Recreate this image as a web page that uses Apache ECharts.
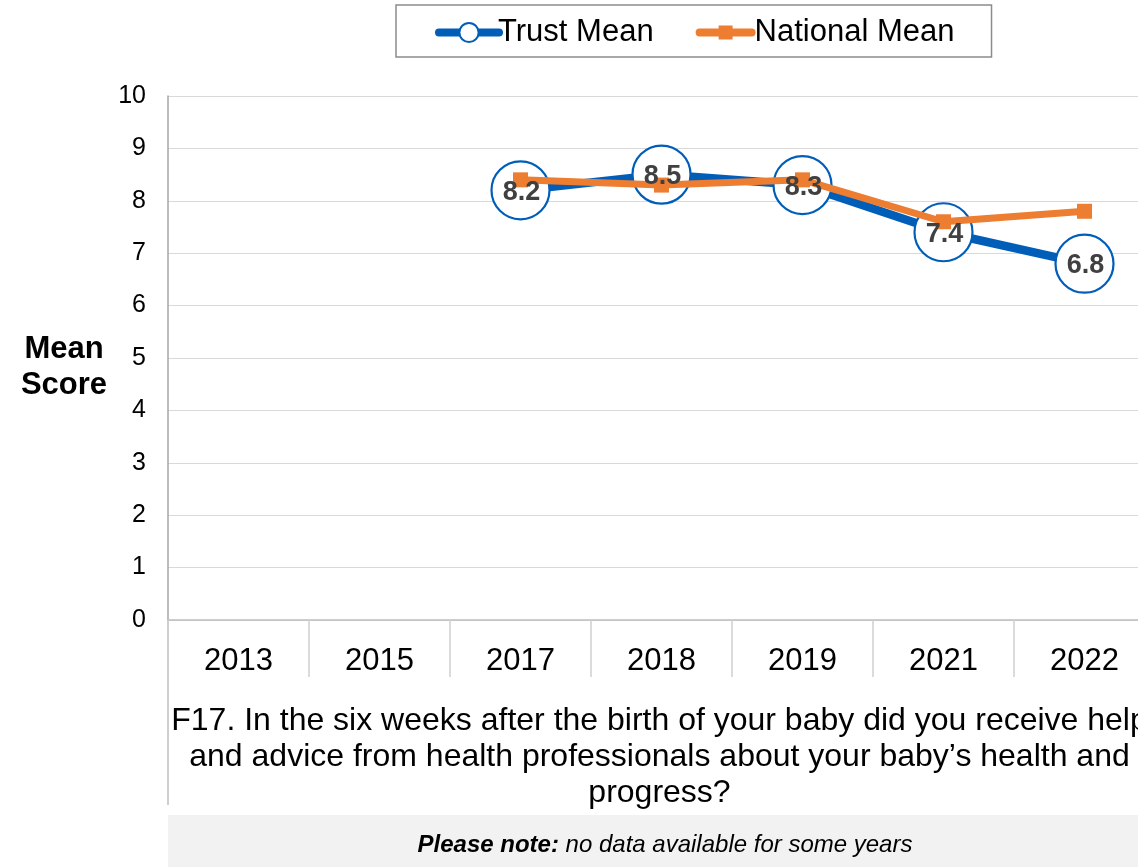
<!DOCTYPE html>
<html>
<head>
<meta charset="utf-8">
<style>
  html, body { margin: 0; padding: 0; background: #ffffff; }
  #chart { width: 1138px; height: 867px; }
</style>
<script src="https://cdn.jsdelivr.net/npm/echarts@6/dist/echarts.min.js"></script>
</head>
<body>
<div id="chart"></div>
<script>
// Survey years on the category axis
const years = ['2013', '2015', '2017', '2018', '2019', '2021', '2022'];
// Mean scores (null = no data for that year)
const trustMean = [null, null, 8.2, 8.5, 8.3, 7.4, 6.8];
const nationalMean = [null, null, 8.4, 8.3, 8.4, 7.6, 7.8];
// Value axis ticks
const scoreMin = 0;
const scoreMax = 10;
const scoreStep = 1;

const questionText = 'F17. In the six weeks after the birth of your baby did you receive help\nand advice from health professionals about your baby\u2019s health and\nprogress?';
const noteBold = 'Please note:';
const noteText = ' no data available for some years';

const FONT = '"Liberation Sans", Arial, sans-serif';
const BLUE = '#005EB8';
const ORANGE = '#ED7D31';

// legend key for the national series: thick rounded line with a small square
const squareKey = 'path://M4,3 L56,3 A4,4 0 0 1 56,11 L4,11 A4,4 0 0 1 4,3 Z M23,0 L37,0 L37,14 L23,14 Z';

const chart = echarts.init(document.getElementById('chart'), null, { renderer: 'canvas' });

chart.setOption({
  animation: false,
  backgroundColor: '#ffffff',
  textStyle: { fontFamily: FONT },
  legend: {
    data: [
      { name: 'Trust Mean' },
      { name: 'National Mean', icon: squareKey }
    ],
    left: 396,
    top: 5,
    padding: [12, 37, 9, 39],
    itemGap: 42,
    itemWidth: 60,
    itemHeight: 24,
    borderColor: '#8c8c8c',
    borderWidth: 1.5,
    lineStyle: { width: 8, cap: 'round' },
    textStyle: { fontFamily: FONT, fontSize: 31, color: '#000000', padding: [0, 0, 0, -6] }
  },
  grid: {
    left: 168,
    top: 96,
    width: 987,
    bottom: 247,
    containLabel: false,
    outerBoundsMode: 'none'
  },
  xAxis: {
    type: 'category',
    data: years,
    boundaryGap: true,
    axisLine: { show: true, lineStyle: { color: '#bfbfbf', width: 1.5 } },
    axisTick: { show: true, interval: 0, length: 57, lineStyle: { color: '#d0d0d0', width: 1.5 } },
    axisLabel: { interval: 0, margin: 26, fontSize: 31, color: '#000000', fontFamily: FONT },
    splitLine: { show: false },
    name: questionText,
    nameLocation: 'middle',
    nameGap: 83,
    nameTextStyle: {
      fontFamily: FONT,
      fontSize: 32,
      lineHeight: 36,
      color: '#000000',
      align: 'center',
      verticalAlign: 'top',
      padding: [0, 4, 0, 0]
    }
  },
  yAxis: {
    type: 'value',
    min: scoreMin,
    max: scoreMax,
    interval: scoreStep,
    axisLine: { show: true, lineStyle: { color: '#a6a6a6', width: 1.5 } },
    axisTick: { show: false },
    axisLabel: { margin: 22, fontSize: 25, color: '#000000', fontFamily: FONT },
    splitLine: { show: true, lineStyle: { color: '#d9d9d9', width: 1.2 } }
  },
  series: [
    {
      name: 'Trust Mean',
      type: 'line',
      data: trustMean,
      z: 2,
      symbol: 'circle',
      symbolSize: 58,
      connectNulls: false,
      lineStyle: { color: BLUE, width: 8.5 },
      itemStyle: { color: '#ffffff', borderColor: BLUE, borderWidth: 2.2 },
      label: { show: false },
      emphasis: { disabled: true }
    },
    {
      name: 'National Mean',
      type: 'line',
      data: nationalMean,
      z: 3,
      symbol: 'rect',
      symbolSize: 15,
      lineStyle: { color: ORANGE, width: 7 },
      itemStyle: { color: ORANGE },
      label: { show: false },
      emphasis: { disabled: true }
    },
    {
      // value labels for the trust series, kept above both lines
      name: 'Trust Mean labels',
      type: 'scatter',
      data: trustMean,
      z: 5,
      silent: true,
      symbol: 'circle',
      symbolSize: 1,
      itemStyle: { color: 'rgba(0,0,0,0)', opacity: 1 },
      label: {
        show: true,
        position: 'inside',
        offset: [1, 2],
        formatter: (p) => p.value == null ? '' : p.value.toFixed(1),
        fontFamily: FONT,
        fontSize: 27,
        fontWeight: 'bold',
        color: '#404040',
        opacity: 1
      },
      emphasis: { disabled: true }
    }
  ],
  graphic: [
    {
      // value-axis title
      type: 'text',
      x: 64,
      y: 367,
      silent: true,
      style: {
        text: 'Mean\nScore',
        align: 'center',
        verticalAlign: 'middle',
        fontFamily: FONT,
        fontSize: 31,
        fontWeight: 'bold',
        lineHeight: 36,
        fill: '#000000'
      }
    },
    {
      // left frame edge continuing below the category band
      type: 'line',
      shape: { x1: 168, y1: 620, x2: 168, y2: 805 },
      style: { stroke: '#bfbfbf', lineWidth: 1.5 },
      silent: true
    },
    {
      type: 'rect',
      shape: { x: 168, y: 815, width: 970, height: 52 },
      style: { fill: '#f2f2f2' },
      silent: true
    },
    {
      type: 'text',
      x: 665,
      y: 845,
      silent: true,
      style: {
        text: '{b|' + noteBold + '}{i|' + noteText + '}',
        align: 'center',
        verticalAlign: 'middle',
        fontFamily: FONT,
        rich: {
          b: { fontFamily: FONT, fontSize: 24, fontWeight: 'bold', fontStyle: 'italic', fill: '#000000' },
          i: { fontFamily: FONT, fontSize: 24, fontStyle: 'italic', fill: '#000000' }
        }
      }
    }
  ]
});
</script>
</body>
</html>
